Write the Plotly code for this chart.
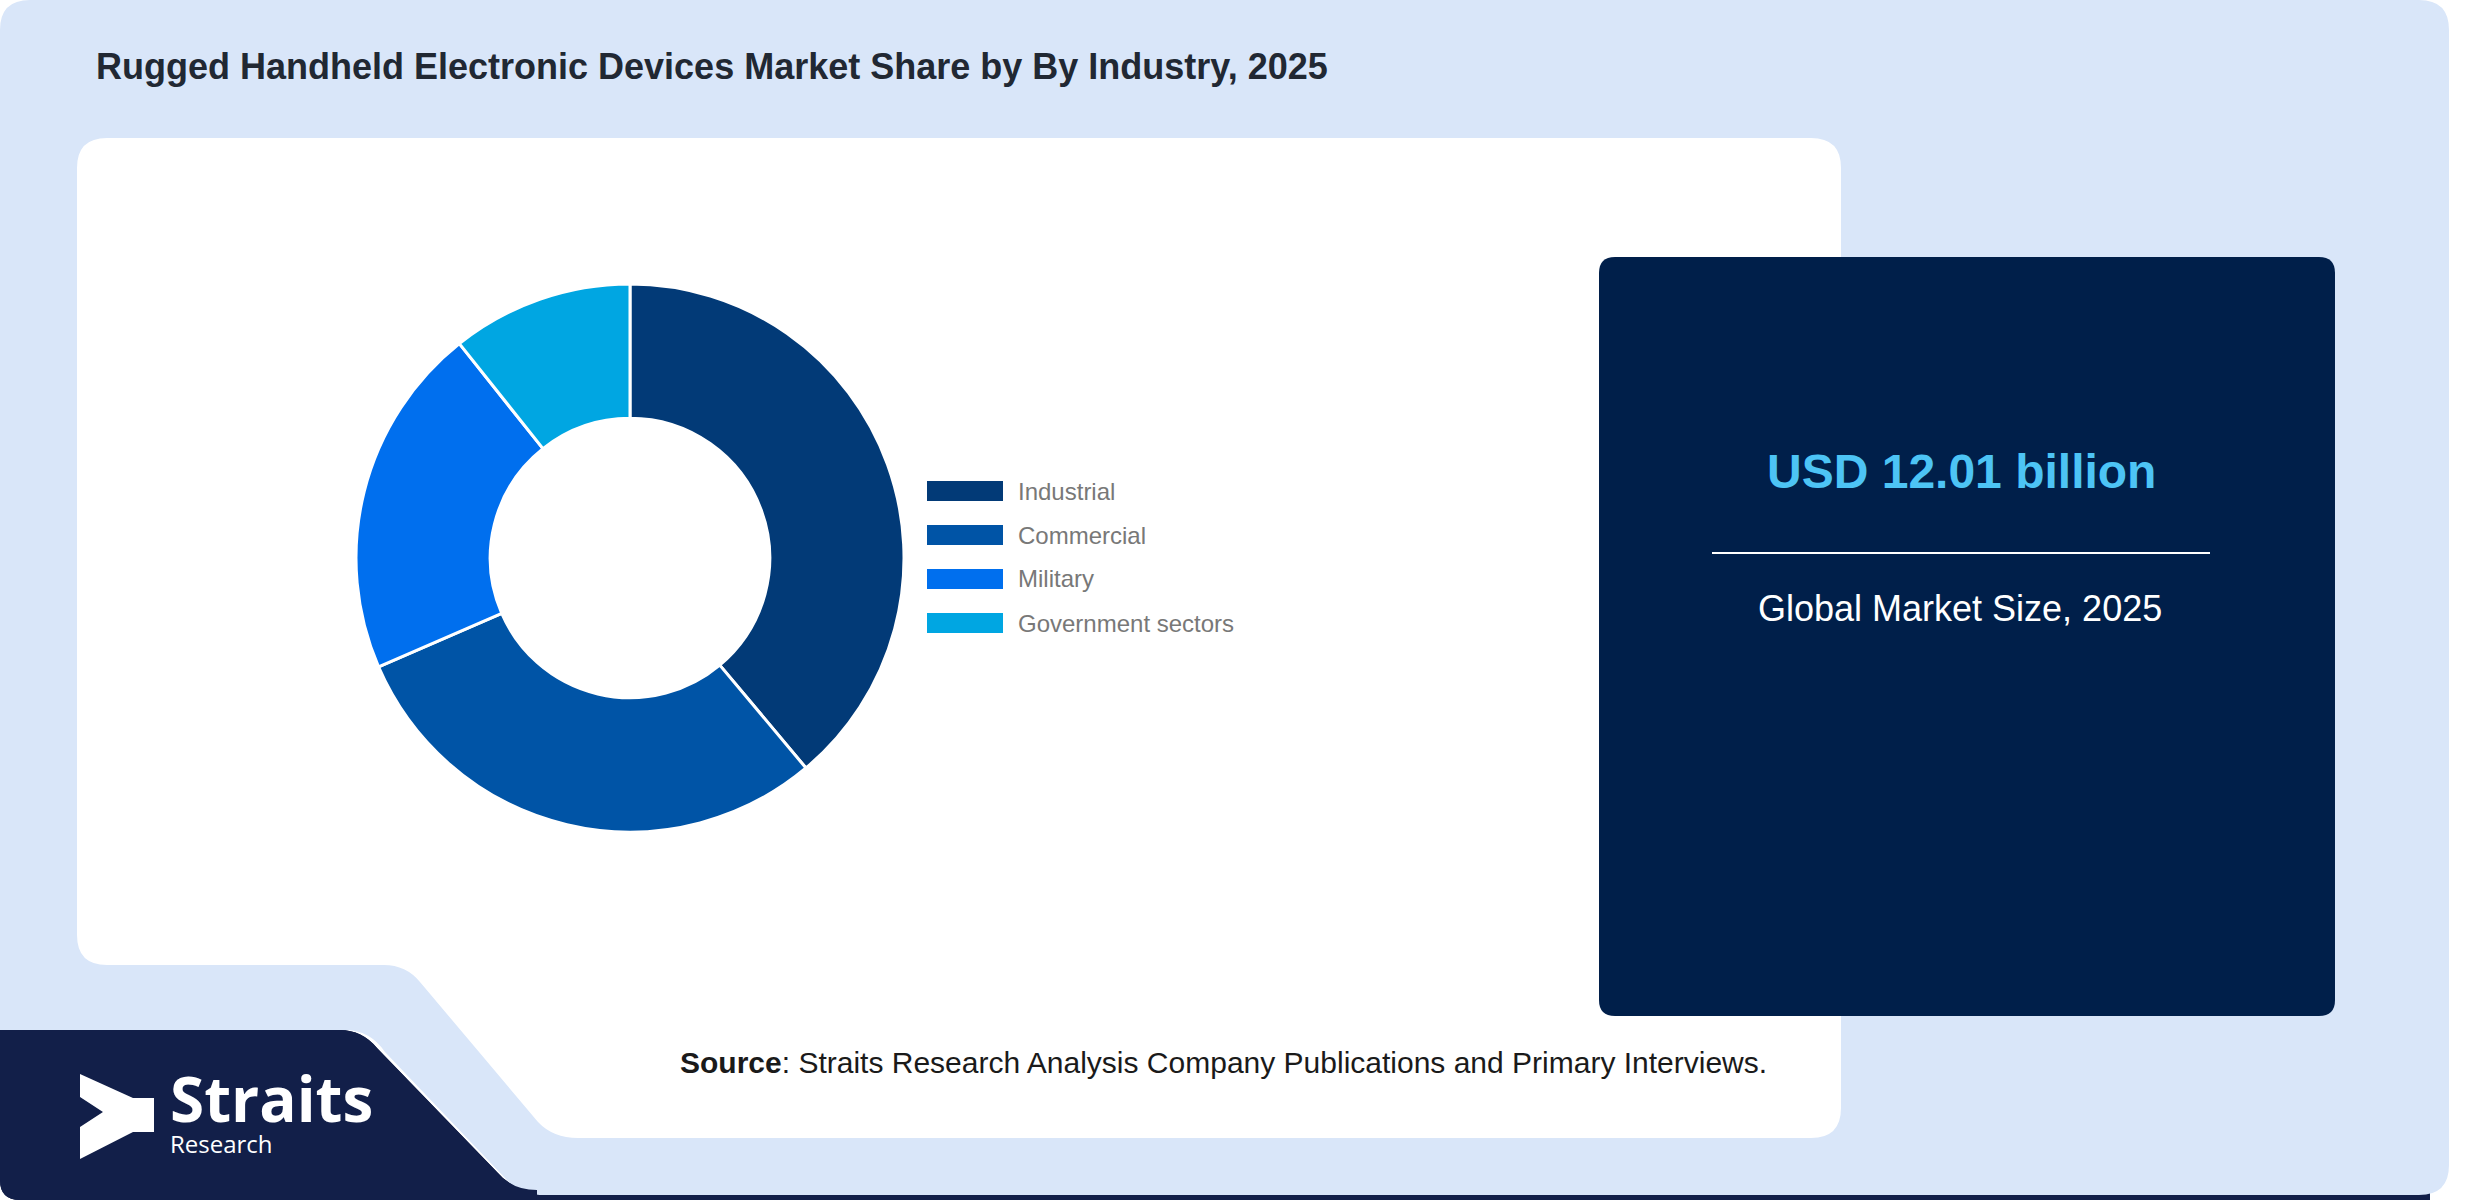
import plotly.graph_objects as go

W, H = 2480, 1200

categories = ["Industrial", "Commercial", "Military", "Government sectors"]
shares = [38.9, 29.6, 20.8, 10.7]
colors = ["#023a77", "#0054a6", "#006fee", "#00a6e2"]

title = "Rugged Handheld Electronic Devices Market Share by By Industry, 2025"
market_size = "USD 12.01 billion"
market_label = "Global Market Size, 2025"
source = "<b>Source</b>: Straits Research Analysis Company Publications and Primary Interviews."


def px(x):
    return x / W


def py(y):
    return 1 - y / H


def path(points):
    # points given in pixel coords (top-down); returns svg path in paper coords
    out = []
    for p in points:
        if isinstance(p, str):
            out.append(p)
        else:
            out.append("%.5f,%.5f" % (px(p[0]), py(p[1])))
    return " ".join(out)


def rounded_rect(x0, y0, x1, y1, r):
    return path([
        "M", (x0 + r, y0), "L", (x1 - r, y0), "Q", (x1, y0), (x1, y0 + r),
        "L", (x1, y1 - r), "Q", (x1, y1), (x1 - r, y1),
        "L", (x0 + r, y1), "Q", (x0, y1), (x0, y1 - r),
        "L", (x0, y0 + r), "Q", (x0, y0), (x0 + r, y0), "Z",
    ])


shapes = []
# navy strip / logo block sits under the light card
shapes.append(dict(type="path", layer="below", line=dict(width=0), fillcolor="#121f49",
                   path=path(["M", (0, 1030), "L", (340, 1030), "Q", (362, 1030), (377, 1048),
                              "L", (497, 1172), "Q", (512, 1190), (537, 1190),
                              "L", (2430, 1190), "L", (2430, 1200), "L", (20, 1200),
                              "Q", (0, 1200), (0, 1180), "Z"])))
# light blue card
shapes.append(dict(type="path", layer="below", line=dict(width=0), fillcolor="#d9e6f9",
                   path=path(["M", (30, 0), "L", (2419, 0), "Q", (2449, 0), (2449, 30),
                              "L", (2449, 1165), "Q", (2449, 1195), (2419, 1195),
                              "L", (545, 1195), "Q", (520, 1195), (505, 1178),
                              "L", (385, 1052), "Q", (370, 1030), (345, 1030),
                              "L", (0, 1030), "L", (0, 30), "Q", (0, 0), (30, 0), "Z"])))
# logo block again on top of card edge
shapes.append(dict(type="path", layer="below", line=dict(width=0), fillcolor="#121f49",
                   path=path(["M", (0, 1030), "L", (340, 1030), "Q", (362, 1030), (377, 1048),
                              "L", (497, 1172), "Q", (512, 1190), (537, 1190),
                              "L", (537, 1200), "L", (20, 1200),
                              "Q", (0, 1200), (0, 1180), "Z"])))
# white chart panel with the cut corner
shapes.append(dict(type="path", layer="below", line=dict(width=0), fillcolor="#ffffff",
                   path=path(["M", (107, 138), "L", (1811, 138), "Q", (1841, 138), (1841, 168),
                              "L", (1841, 1108), "Q", (1841, 1138), (1811, 1138),
                              "L", (578, 1138), "Q", (553, 1138), (538, 1122),
                              "L", (420, 982), "Q", (406, 965), (384, 965),
                              "L", (107, 965), "Q", (77, 965), (77, 935),
                              "L", (77, 168), "Q", (77, 138), (107, 138), "Z"])))
# market size box
shapes.append(dict(type="path", layer="below", line=dict(width=0), fillcolor="#001f4a",
                   path=rounded_rect(1599, 257, 2335, 1016, 16)))
shapes.append(dict(type="line", x0=px(1712), x1=px(2210),
                   y0=py(553), y1=py(553), line=dict(color="white", width=2)))
# logo mark
shapes.append(dict(type="path", layer="above", line=dict(width=0), fillcolor="white",
                   path=path(["M", (80, 1074), "L", (133, 1098), "L", (154, 1098), "L", (154, 1132),
                              "L", (133, 1132), "L", (80, 1159), "L", (80, 1127), "L", (103, 1112),
                              "L", (80, 1097), "Z"])))
for s in shapes:
    s.setdefault("xref", "paper")
    s.setdefault("yref", "paper")

annotations = [
    dict(text=title, x=px(94), y=py(66), xanchor="left", yanchor="middle", showarrow=False,
         font=dict(family="Liberation Sans, Arial", size=36, color="#212833", weight="bold")),
    dict(text=market_size, x=px(1961), y=py(471), xanchor="center", yanchor="middle", showarrow=False,
         font=dict(family="Liberation Sans, Arial", size=48, color="#4dc4f5", weight="bold")),
    dict(text=market_label, x=px(1960), y=py(609), xanchor="center", yanchor="middle", showarrow=False,
         font=dict(family="Liberation Sans, Arial", size=36, color="white")),
    dict(text=source, x=px(1223), y=py(1062), xanchor="center", yanchor="middle", showarrow=False,
         font=dict(family="Liberation Sans, Arial", size=30, color="#1a1a1a")),
    # logo words as one text block so the two lines sit tight together
    dict(text="<span style='font-size:62px'><b>Straits</b></span><br>Research",
         x=px(168), y=py(1162), xanchor="left", yanchor="bottom", align="left", showarrow=False,
         font=dict(family="Open Sans", size=24, color="white")),
]

# legend drawn by hand: wide swatches like the reference
for i, (name, col) in enumerate(zip(categories, colors)):
    yc = 491 + 44 * i
    shapes.append(dict(type="rect", xref="paper", yref="paper", x0=px(927), x1=px(1003),
                       y0=py(yc - 10), y1=py(yc + 10), fillcolor=col, line=dict(width=0)))
    annotations.append(dict(text=name, x=px(1016), y=py(yc), xanchor="left", yanchor="middle",
                            showarrow=False,
                            font=dict(family="Liberation Sans, Arial", size=24, color="#787878")))

cx, cy, r = 630, 558, 274
fig = go.Figure(go.Pie(
    labels=categories, values=shares, hole=0.51, sort=False,
    direction="clockwise", rotation=0,
    marker=dict(colors=colors, line=dict(color="white", width=3)),
    textinfo="none", showlegend=False,
    domain=dict(x=[px(cx - r), px(cx + r)], y=[py(cy + r), py(cy - r)]),
))

fig.update_layout(
    width=W, height=H, margin=dict(l=0, r=0, t=0, b=0),
    paper_bgcolor="white", plot_bgcolor="rgba(0,0,0,0)",
    shapes=shapes, annotations=annotations, showlegend=False,
)

# page body margin would shift the chart off the window corner
fig.write_html("out.html", config={"displayModeBar": False},
               post_script="document.body.style.margin='0';")
